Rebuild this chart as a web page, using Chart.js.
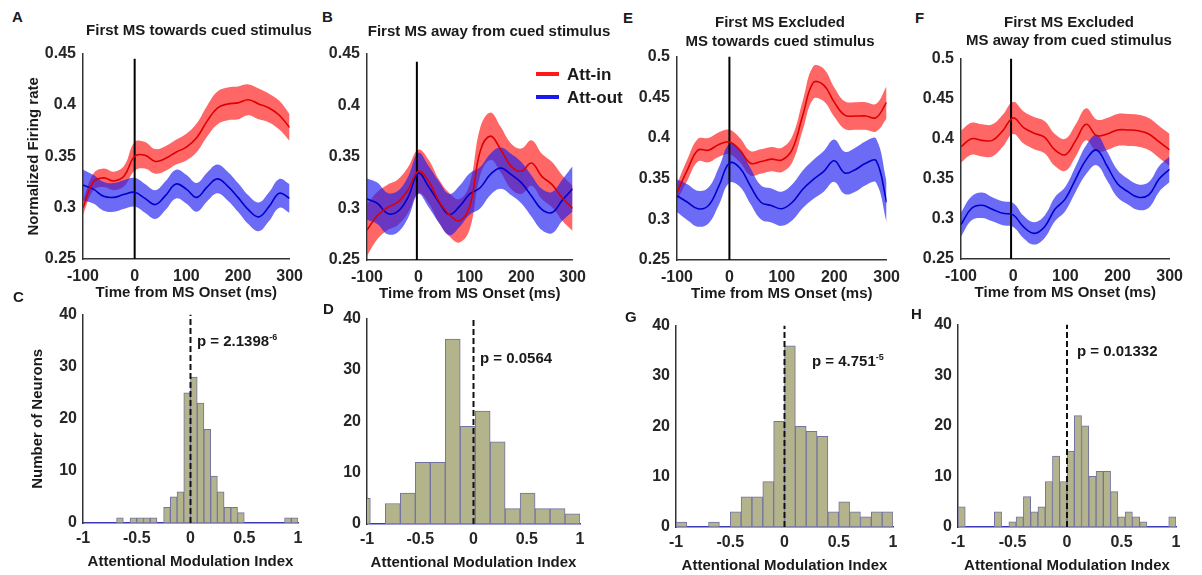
<!DOCTYPE html>
<html>
<head>
<meta charset="utf-8">
<script src="https://cdn.jsdelivr.net/npm/chart.js@4.4.1/dist/chart.umd.min.js"></script>
<style>
  body { margin: 0; background: #fff; width: 1202px; height: 575px; position: relative; overflow: hidden;
         font-family: "Liberation Sans", Arial, sans-serif; font-weight: bold; color: #1a1a1a; }
  canvas { position: absolute; }
  .txt { position: absolute; white-space: nowrap; line-height: 1; }
  .letter { font-size: 15px; }
  .title { font-size: 15px; transform: translateX(-50%); }
  .pval { font-size: 15px; }
  .pval sup { font-size: 9px; vertical-align: 6px; }
  .key { position: absolute; height: 4px; width: 23px; }
  .keytxt { font-size: 17px; }
</style>
</head>
<body>
<canvas id="chartA"></canvas>
<canvas id="chartB"></canvas>
<canvas id="chartE"></canvas>
<canvas id="chartF"></canvas>
<canvas id="chartC"></canvas>
<canvas id="chartD"></canvas>
<canvas id="chartG"></canvas>
<canvas id="chartH"></canvas>

<div class="txt letter" style="left:12px;top:9px">A</div>
<div class="txt letter" style="left:322px;top:9px">B</div>
<div class="txt letter" style="left:623px;top:10px">E</div>
<div class="txt letter" style="left:915px;top:10px">F</div>
<div class="txt letter" style="left:13px;top:289px">C</div>
<div class="txt letter" style="left:323px;top:301px">D</div>
<div class="txt letter" style="left:625px;top:309px">G</div>
<div class="txt letter" style="left:911px;top:306px">H</div>

<div class="txt title" style="left:199px;top:22px">First MS towards cued stimulus</div>
<div class="txt title" style="left:489px;top:23px">First MS away from cued stimulus</div>
<div class="txt title" style="left:780px;top:14px">First MS Excluded</div>
<div class="txt title" style="left:780px;top:33px">MS towards cued stimulus</div>
<div class="txt title" style="left:1069px;top:14px">First MS Excluded</div>
<div class="txt title" style="left:1069px;top:32px">MS away from cued stimulus</div>

<div class="txt pval" style="left:197px;top:333px">p = 2.1398<sup>-6</sup></div>
<div class="txt pval" style="left:480px;top:350px">p = 0.0564</div>
<div class="txt pval" style="left:812px;top:353px">p = 4.751<sup>-5</sup></div>
<div class="txt pval" style="left:1077px;top:343px">p = 0.01332</div>

<div class="key" style="left:536px;top:72px;background:#ff1a1a"></div>
<div class="txt keytxt" style="left:567px;top:66px">Att-in</div>
<div class="key" style="left:536px;top:95px;background:#1a1aee"></div>
<div class="txt keytxt" style="left:567px;top:89px">Att-out</div>

<script>
// time axis shared by the four firing-rate panels
const timeMs = [-100, -80, -60, -40, -20, 0, 20, 40, 60, 80, 100, 120, 140, 160, 180, 200, 220, 240, 260, 280, 300];

// A: first MS towards cued stimulus
const aInMean  = [0.300, 0.325, 0.329, 0.326, 0.331, 0.350, 0.351, 0.345, 0.348, 0.354, 0.359, 0.368, 0.384, 0.397, 0.401, 0.402, 0.405, 0.401, 0.397, 0.390, 0.378];
const aInErr   = [0.007, 0.008, 0.009, 0.009, 0.010, 0.014, 0.013, 0.012, 0.012, 0.012, 0.013, 0.014, 0.015, 0.016, 0.016, 0.016, 0.015, 0.015, 0.014, 0.014, 0.013];
const aOutMean = [0.322, 0.318, 0.311, 0.310, 0.313, 0.315, 0.309, 0.303, 0.312, 0.323, 0.318, 0.310, 0.320, 0.328, 0.321, 0.310, 0.298, 0.291, 0.301, 0.314, 0.309];
const aOutErr  = [0.015, 0.014, 0.014, 0.014, 0.014, 0.014, 0.014, 0.014, 0.014, 0.014, 0.014, 0.014, 0.014, 0.014, 0.014, 0.014, 0.014, 0.014, 0.014, 0.014, 0.014];

// B: first MS away from cued stimulus
const bInMean  = [0.279, 0.293, 0.301, 0.306, 0.318, 0.336, 0.326, 0.307, 0.294, 0.288, 0.302, 0.355, 0.370, 0.357, 0.341, 0.336, 0.344, 0.331, 0.323, 0.310, 0.300];
const bInErr   = [0.025, 0.023, 0.022, 0.022, 0.022, 0.021, 0.021, 0.021, 0.021, 0.021, 0.022, 0.023, 0.023, 0.022, 0.022, 0.022, 0.022, 0.022, 0.022, 0.022, 0.022];
const bOutMean = [0.309, 0.305, 0.295, 0.297, 0.311, 0.334, 0.321, 0.306, 0.294, 0.302, 0.314, 0.320, 0.333, 0.339, 0.333, 0.325, 0.312, 0.299, 0.296, 0.308, 0.319];
const bOutErr  = [0.020, 0.020, 0.020, 0.020, 0.020, 0.020, 0.020, 0.020, 0.020, 0.020, 0.020, 0.020, 0.020, 0.020, 0.020, 0.020, 0.020, 0.020, 0.020, 0.020, 0.022];

// E: first MS excluded, MS towards cued stimulus
const eInMean  = [0.333, 0.361, 0.385, 0.385, 0.392, 0.395, 0.385, 0.369, 0.371, 0.374, 0.373, 0.386, 0.428, 0.468, 0.465, 0.444, 0.428, 0.427, 0.427, 0.425, 0.444];
const eInErr   = [0.010, 0.013, 0.014, 0.015, 0.015, 0.015, 0.015, 0.015, 0.015, 0.015, 0.015, 0.016, 0.018, 0.020, 0.020, 0.018, 0.017, 0.017, 0.017, 0.017, 0.020];
const eOutMean = [0.329, 0.321, 0.313, 0.317, 0.341, 0.369, 0.363, 0.341, 0.321, 0.317, 0.313, 0.321, 0.337, 0.349, 0.359, 0.372, 0.357, 0.361, 0.369, 0.372, 0.321];
const eOutErr  = [0.020, 0.022, 0.022, 0.022, 0.023, 0.024, 0.023, 0.022, 0.021, 0.021, 0.021, 0.022, 0.023, 0.024, 0.025, 0.026, 0.026, 0.027, 0.027, 0.027, 0.025];

// F: first MS excluded, MS away from cued stimulus
const fInMean  = [0.390, 0.400, 0.398, 0.398, 0.410, 0.426, 0.414, 0.407, 0.402, 0.386, 0.380, 0.398, 0.418, 0.404, 0.406, 0.411, 0.411, 0.410, 0.406, 0.396, 0.386];
const fInErr   = [0.020, 0.020, 0.020, 0.020, 0.020, 0.020, 0.020, 0.020, 0.020, 0.020, 0.020, 0.020, 0.020, 0.020, 0.020, 0.020, 0.020, 0.020, 0.020, 0.020, 0.020];
const fOutMean = [0.293, 0.313, 0.317, 0.312, 0.307, 0.305, 0.290, 0.282, 0.290, 0.312, 0.325, 0.350, 0.374, 0.386, 0.366, 0.344, 0.334, 0.327, 0.330, 0.350, 0.362];
const fOutErr  = [0.015, 0.015, 0.016, 0.015, 0.015, 0.015, 0.014, 0.014, 0.014, 0.015, 0.015, 0.016, 0.018, 0.019, 0.018, 0.017, 0.016, 0.016, 0.016, 0.016, 0.016];

// attentional modulation index histograms: first bin edge, bin width, counts
const cBinStart = -1,     cBinWidth = 0.0625;
const cCounts = [0, 0, 0, 0, 0, 1, 0, 1, 1, 1, 1, 0, 3, 5, 6, 25, 28, 23, 18, 9, 6, 3, 3, 2, 0, 0, 0, 0, 0, 0, 1, 1];
const dBinStart = -1.109, dBinWidth = 0.1406;
const dCounts = [5, 0, 4, 6, 12, 12, 36, 19, 22, 16, 3, 6, 3, 3, 2];
const gBinStart = -1,     gBinWidth = 0.1;
const gCounts = [1, 0, 0, 1, 0, 3, 6, 6, 9, 21, 36, 20, 19, 18, 3, 5, 3, 2, 3, 3];
const hBinStart = -1,     hBinWidth = 1 / 15;
const hCounts = [4, 0, 0, 0, 0, 3, 0, 1, 2, 6, 3, 4, 9, 14, 9, 15, 22, 20, 10, 11, 11, 7, 2, 3, 2, 1, 0, 0, 0, 2];

const xTicksTime = [-100, 0, 100, 200, 300];
const xTicksIndex = [-1, -0.5, 0, 0.5, 1];

Chart.defaults.font.family = "'Liberation Sans', Arial, sans-serif";
Chart.defaults.font.weight = 'bold';
Chart.defaults.color = '#262626';
Chart.defaults.animation = false;
Chart.defaults.plugins.legend.display = false;
Chart.defaults.plugins.tooltip.enabled = false;

const RED_BAND = 'rgba(255, 30, 30, 0.68)';
const BLUE_BAND = 'rgba(30, 30, 240, 0.66)';
const AXIS = { color: '#333', width: 1.5 };
const fmt = v => String(Math.round(v * 100) / 100);

// size the canvas so the plot area lands on the given rectangle
function place(canvas, area, yW, xH) {
  const padL = 2, padT = 10, padR = 14;
  canvas.width = area.w + yW + padL + padR;
  canvas.height = area.h + padT + xH;
  canvas.style.left = (area.x - yW - padL) + 'px';
  canvas.style.top = (area.y - padT) + 'px';
  return { left: padL, top: padT, right: padR, bottom: 0 };
}

function band(mean, err, color, order) {
  const up = timeMs.map((t, i) => ({ x: t, y: mean[i] + err[i] }));
  const lo = timeMs.map((t, i) => ({ x: t, y: mean[i] - err[i] }));
  const common = { type: 'line', borderWidth: 0, pointRadius: 0, tension: 0.4, order: order };
  return [
    Object.assign({ data: up, fill: false }, common),
    Object.assign({ data: lo, fill: '-1', backgroundColor: color }, common)
  ];
}

function meanLine(mean, color) {
  return {
    type: 'line', data: timeMs.map((t, i) => ({ x: t, y: mean[i] })),
    borderColor: color, borderWidth: 1.6, pointRadius: 0, tension: 0.4, fill: false, order: 0
  };
}

function rateChart(id, area, yW, yMin, yMax, inMean, inErr, outMean, outErr, onsetX, onsetTop, yTitle) {
  const canvas = document.getElementById(id);
  const xH = 47;
  const padding = place(canvas, area, yW, xH);
  const datasets = [].concat(
    band(inMean, inErr, RED_BAND, 2),
    band(outMean, outErr, BLUE_BAND, 1),
    [meanLine(inMean, '#dd0000'), meanLine(outMean, '#0000cc')],
    [{
      type: 'line', data: [{ x: onsetX, y: yMin }, { x: onsetX, y: onsetTop }],
      borderColor: '#000', borderWidth: 2, pointRadius: 0, fill: false, order: 0
    }]
  );
  new Chart(canvas, {
    type: 'line',
    data: { datasets: datasets },
    options: {
      responsive: false,
      layout: { padding: padding },
      scales: {
        x: {
          type: 'linear', min: -100, max: 300,
          afterBuildTicks: s => { s.ticks = xTicksTime.map(v => ({ value: v })); },
          ticks: { padding: 8, font: { size: 16 }, callback: fmt, maxRotation: 0 },
          grid: { display: false, drawTicks: false },
          border: AXIS,
          title: { display: true, text: 'Time from MS Onset (ms)', font: { size: 15 }, color: '#1a1a1a' },
          afterFit: s => { s.height = xH; }
        },
        y: {
          min: yMin, max: yMax,
          ticks: { stepSize: 0.05, padding: 7, font: { size: 16 }, callback: fmt },
          grid: { display: false, drawTicks: false },
          border: AXIS,
          title: { display: !!yTitle, text: yTitle || '', font: { size: 15 }, color: '#1a1a1a' },
          afterFit: s => { s.width = yW; }
        }
      }
    }
  });
}

function histChart(id, area, yW, binStart, binWidth, counts, yTitle) {
  const canvas = document.getElementById(id);
  const xH = 52;
  const padding = place(canvas, area, yW, xH);
  const bars = counts.map((c, i) => ({ x: binStart + binWidth * (i + 0.5), y: c }));
  new Chart(canvas, {
    type: 'bar',
    data: {
      datasets: [
        {
          type: 'line', data: [{ x: 0, y: 0 }, { x: 0, y: 40 }],
          borderColor: '#111', borderWidth: 2, borderDash: [6, 3], pointRadius: 0, fill: false, order: 0
        },
        {
          data: bars, backgroundColor: '#b4b48c', borderColor: '#7272a4', borderWidth: 1,
          borderSkipped: false, barPercentage: 1, categoryPercentage: 1, clip: 0, order: 1
        }
      ]
    },
    options: {
      responsive: false,
      layout: { padding: padding },
      scales: {
        x: {
          type: 'linear', min: -1, max: 1, offset: false,
          afterBuildTicks: s => { s.ticks = xTicksIndex.map(v => ({ value: v })); },
          ticks: { padding: 6, font: { size: 16 }, callback: fmt, maxRotation: 0 },
          grid: { display: false, drawTicks: false },
          border: { color: '#3a3ab4', width: 1.5 },
          title: { display: true, text: 'Attentional Modulation Index', font: { size: 15 }, color: '#1a1a1a' },
          afterFit: s => { s.height = xH; }
        },
        y: {
          min: 0, max: 40,
          ticks: { stepSize: 10, padding: 6, font: { size: 16 }, callback: fmt },
          grid: { display: false, drawTicks: false },
          border: AXIS,
          title: { display: !!yTitle, text: yTitle || '', font: { size: 15 }, color: '#1a1a1a' },
          afterFit: s => { s.width = yW; }
        }
      }
    }
  });
}

rateChart('chartA', { x: 83, y: 47, w: 214, h: 212 }, 62, 0.25, 0.45, aInMean, aInErr, aOutMean, aOutErr, 0, 0.445, 'Normalized Firing rate');
rateChart('chartB', { x: 367, y: 47, w: 213, h: 213 }, 45, 0.25, 0.45, bInMean, bInErr, bOutMean, bOutErr, -3, 0.442);
rateChart('chartE', { x: 677, y: 50, w: 217, h: 210 }, 45, 0.25, 0.5, eInMean, eInErr, eOutMean, eOutErr, 0, 0.5);
rateChart('chartF', { x: 961, y: 52, w: 216, h: 207 }, 45, 0.25, 0.5, fInMean, fInErr, fOutMean, fOutErr, -4, 0.5);

histChart('chartC', { x: 83, y: 309, w: 215, h: 214 }, 58, cBinStart, cBinWidth, cCounts, 'Number of Neurons');
histChart('chartD', { x: 367, y: 313, w: 213, h: 211 }, 45, dBinStart, dBinWidth, dCounts);
histChart('chartG', { x: 676, y: 320, w: 217, h: 207 }, 45, gBinStart, gBinWidth, gCounts);
histChart('chartH', { x: 958, y: 319, w: 218, h: 208 }, 45, hBinStart, hBinWidth, hCounts);
</script>
</body>
</html>
